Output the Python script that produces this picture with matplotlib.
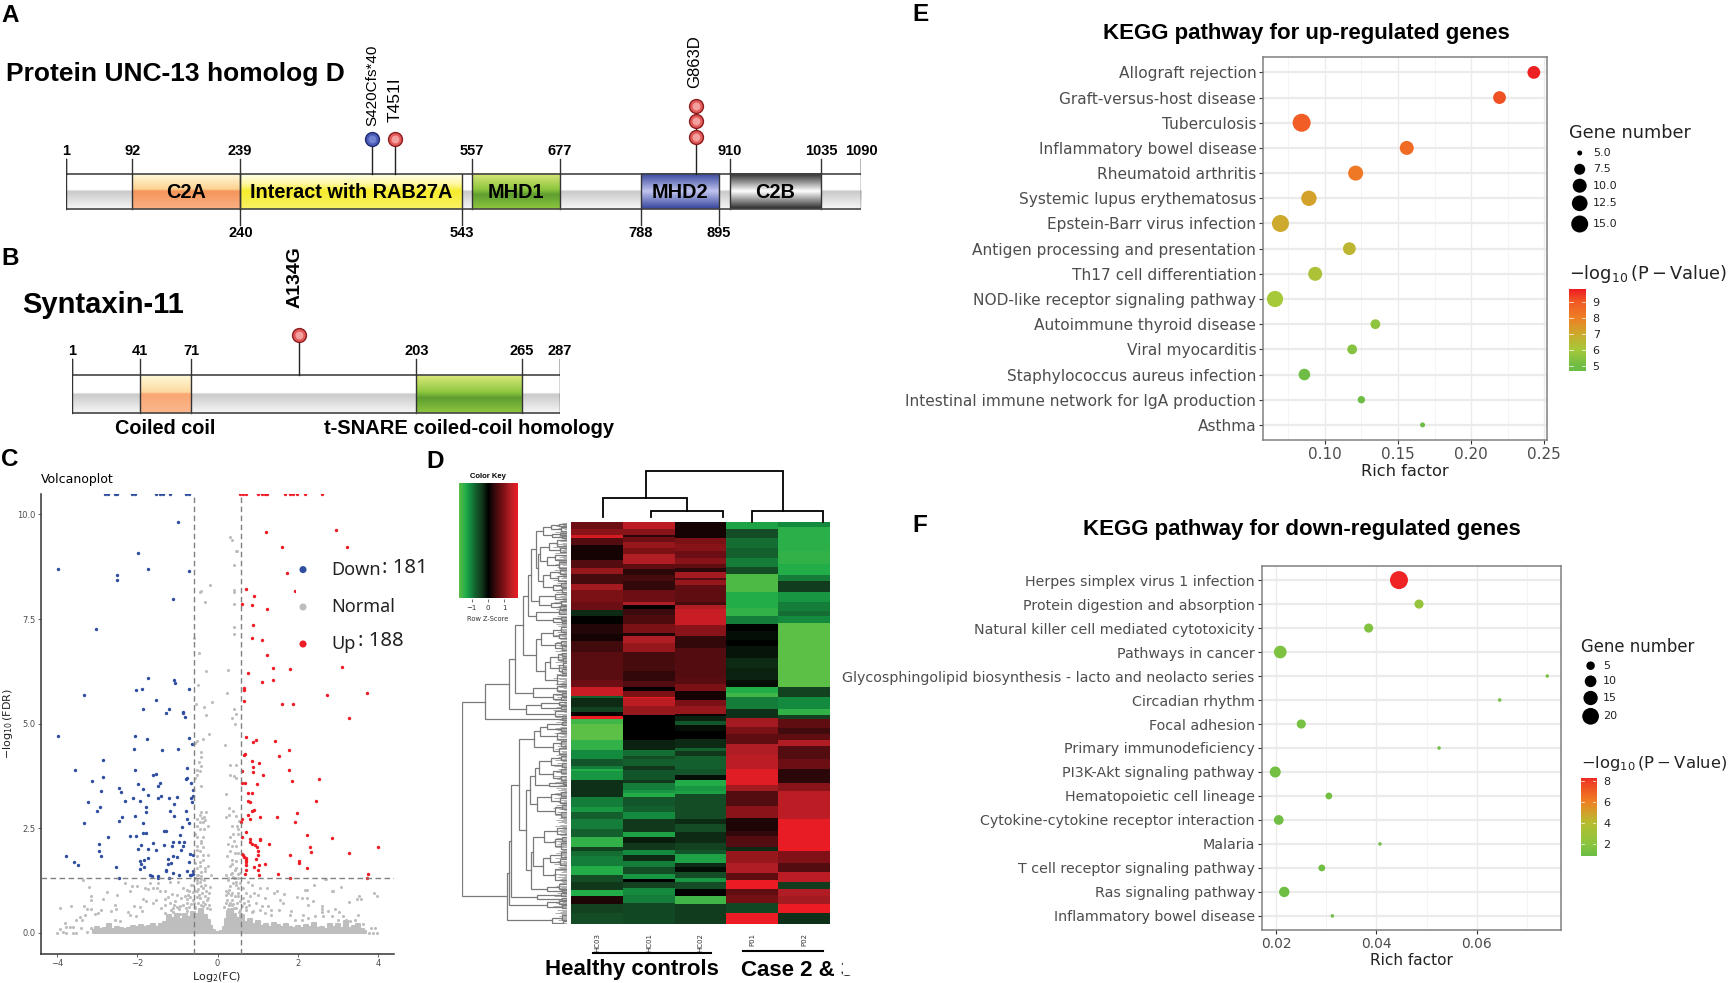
import numpy as np
import matplotlib
matplotlib.use('Agg')
import matplotlib.pyplot as plt
from matplotlib.colors import LinearSegmentedColormap, to_rgb
from matplotlib.patches import Rectangle

W, H = 1730, 983
plt.rcParams['font.family'] = ['DejaVu Sans']
plt.rcParams['mathtext.fontset'] = 'dejavusans'
BOLD = 'Liberation Sans'

# ---- A / B domain data
unc_ticks_top = [1, 92, 239, 557, 677, 910, 1035, 1090]
unc_ticks_bot = [240, 543, 788, 895]
unc_domains = [('C2A', 92, 239), ('Interact with RAB27A', 240, 543), ('MHD1', 557, 677),
               ('MHD2', 788, 895), ('C2B', 910, 1035)]
unc_muts = [420, 451, 863]
stx_ticks_top = [1, 41, 71, 203, 265, 287]
stx_domains = [('Coiled coil', 41, 71), ('t-SNARE coiled-coil homology', 203, 265)]
stx_mut = 134

# ---- C volcano data
down_x = [-0.98,-3.97,-1.97,-1.72,-2.51,-2.51,-0.71,-1.10,-3.02,-1.73,-1.09,-1.05,-1.88,-2.03,-0.72,-3.31,-1.53,-1.86,-1.21,-1.28,-0.86,-0.85,-0.80,-3.98,-2.06,-1.75,-0.71,-0.64,-2.08,-1.38,-0.98,-2.84,-3.55,-2.05,-0.75,-1.60,-1.53,-2.84,-0.77,-0.79,-3.13,-1.97,-1.44,-1.49,-0.66,-2.46,-1.85,-2.89,-0.60,-2.39,-1.73,-1.40,-2.10,-1.49,-1.20,-1.01,-0.62,-0.65,-3.22,-2.30,-1.93,-1.09,-0.63,-2.93,-1.78,-2.99,-1.78,-1.19,-0.78,-2.06,-2.37,-1.08,-2.46,-0.75,-3.31,-1.86,-0.72,-0.88,-1.34,-1.29,-1.85,-1.79,-0.93,-2.72,-2.17,-2.03,-1.91,-1.60,-2.96,-1.10,-1.33,-0.95,-0.83,-0.85,-1.12,-1.98,-1.74,-1.54,-2.94,-0.91,-1.10,-1.01,-3.76,-2.90,-0.69,-0.60,-1.73,-1.83,-1.22,-1.93,-1.90,-0.71,-3.58,-3.48,-1.15,-1.24,-2.53,-1.83,-1.93,-1.28,-1.29,-0.77,-1.10,-0.97,-1.68,-1.63,-1.49,-1.49,-2.45,-1.21,-0.69,-0.65,-0.61,-0.62,-2.80,-2.72,-2.55,-2.51,-2.14,-2.06,-1.52,-1.44,-1.35,-1.17,-0.79,-0.71]
down_y = [9.82,8.69,9.07,8.70,8.55,8.43,8.65,7.98,7.27,6.10,6.04,5.97,5.83,5.80,5.83,5.68,5.56,5.36,5.35,5.26,5.27,5.26,5.16,4.71,4.70,4.64,4.66,4.51,4.40,4.36,4.39,4.14,3.89,3.90,3.95,3.76,3.79,3.72,3.70,3.67,3.62,3.56,3.58,3.52,3.58,3.47,3.44,3.40,3.41,3.37,3.29,3.28,3.23,3.23,3.22,3.24,3.28,3.23,3.13,3.14,3.14,3.09,3.12,3.00,3.01,2.90,2.88,2.90,2.92,2.80,2.77,2.80,2.68,2.73,2.62,2.63,2.63,2.52,2.43,2.43,2.38,2.38,2.34,2.30,2.31,2.31,2.09,2.15,2.13,2.18,2.10,2.17,2.17,2.08,2.07,2.01,2.00,1.99,1.95,1.99,1.83,1.81,1.84,1.83,1.88,1.87,1.79,1.75,1.77,1.71,1.65,1.70,1.68,1.62,1.66,1.65,1.57,1.57,1.52,1.51,1.47,1.48,1.43,1.39,1.39,1.35,1.35,1.32,1.32,1.32,1.37,1.37,1.47,1.40,10.5,10.5,10.5,10.5,10.5,10.5,10.5,10.5,10.5,10.5,10.5,10.5]
up_x = [1.20,2.95,1.60,3.22,1.73,1.94,0.71,0.91,0.61,0.86,1.24,0.89,0.85,1.10,1.24,1.37,1.80,0.75,1.37,1.10,0.66,0.66,2.73,3.73,0.66,1.60,1.88,3.27,0.71,0.96,0.89,1.42,1.78,0.68,0.65,1.53,0.85,1.03,0.89,1.78,0.60,0.89,1.12,2.53,1.85,0.61,0.69,0.99,0.77,0.85,0.76,0.81,2.46,0.92,0.86,1.98,0.76,1.07,1.49,0.80,0.60,0.59,1.94,0.70,2.22,0.60,2.86,1.07,1.05,0.80,0.80,1.29,0.86,0.94,0.98,2.30,3.99,1.01,2.33,3.28,1.81,0.60,0.63,0.66,0.70,1.01,0.96,0.70,2.02,2.03,0.71,0.70,1.18,1.03,0.91,1.02,2.22,0.72,0.69,1.03,1.50,3.74,1.81,3.71,3.10,0.57,0.64,0.72,1.01,1.10,1.18,1.22,1.68,1.80,1.88,1.97,2.17,2.59]
up_y = [9.59,9.63,9.22,9.22,8.60,8.16,8.22,8.04,7.87,7.83,7.75,7.36,7.05,6.99,6.63,6.33,6.30,6.20,6.04,5.99,5.85,5.80,5.68,5.73,5.53,5.46,5.47,5.14,4.69,4.61,4.56,4.58,4.38,4.28,4.25,4.22,4.10,4.06,3.96,3.88,3.87,3.84,3.76,3.67,3.63,3.59,3.58,3.55,3.35,3.33,3.16,3.12,3.15,2.94,2.92,2.86,2.81,2.76,2.76,2.72,2.71,2.65,2.64,2.41,2.34,2.29,2.26,2.25,2.21,2.23,2.17,2.12,2.12,2.09,2.06,2.06,2.04,1.95,1.92,1.90,1.86,1.88,1.87,1.82,1.79,1.85,1.77,1.73,1.71,1.66,1.69,1.63,1.65,1.61,1.57,1.50,1.54,1.49,1.41,1.39,1.40,1.40,1.32,1.32,6.36,10.5,10.5,10.5,10.5,10.5,10.5,10.5,10.5,10.5,10.5,10.5,10.5,10.5]
normal_x = [-3.99,-3.91,-3.80,-3.91,-3.64,-3.33,-3.25,-3.16,-3.20,-3.35,-3.14,-3.14,-2.86,-2.76,-2.50,-2.56,-2.91,-2.64,-2.53,-3.05,-2.97,-3.30,-3.41,-3.36,-3.51,-3.76,-3.68,-3.59,-3.84,-3.76,-3.59,-3.51,-3.39,-3.26,-3.14,-2.31,-2.14,-2.00,-2.17,-1.81,-1.73,-1.60,-1.50,-1.69,-1.48,-1.19,-0.98,-1.44,-1.31,-1.14,-1.00,-0.86,-0.77,-0.65,-1.52,-1.60,-1.31,-1.23,-2.07,-1.93,-1.85,-1.77,-2.22,-2.02,-1.89,-2.56,-2.43,-2.18,-1.40,-1.31,-1.19,-1.06,-0.90,-0.73,-0.52,-0.36,-0.19,-0.44,-0.32,-0.52,-1.10,-0.94,-0.77,-0.61,-0.44,-0.27,-0.77,-0.56,-0.36,-0.19,-1.31,-1.10,-0.94,
 0.32,0.36,0.49,0.46,0.41,-0.18,-0.40,-0.44,0.41,0.41,-0.31,0.41,0.42,0.41,-0.59,-0.46,-0.28,0.25,-0.48,0.24,-0.14,-0.34,-0.54,0.41,0.47,0.37,-0.29,0.44,-0.20,-0.36,-0.52,-0.57,0.18,-0.41,-0.41,-0.46,-0.40,-0.51,-0.44,-0.52,-0.56,0.31,0.47,0.32,0.41,0.47,-0.42,0.21,-0.40,-0.29,-0.44,-0.34,-0.52,-0.36,-0.23,-0.52,-0.44,-0.34,-0.56,-0.41,-0.52,-0.36,-0.44,-0.23,-0.52,-0.36,-0.44,-0.56,-0.23,-0.32,-0.17,-0.52,-0.40,0.29,0.20,0.29,0.54,0.49,0.35,0.51,0.39,0.27,0.35,0.47,0.31,0.43,0.24,0.35,0.47,0.32,0.43,0.22,0.35,0.51,0.27,0.43,2.70,2.17,2.86,
 2.41,2.67,2.87,3.07,2.22,3.52,3.46,3.58,3.28,3.90,3.96,2.38,1.99,2.11,2.22,2.24,2.60,2.60,2.59,1.84,1.53,1.66,1.47,1.41,1.22,1.05,0.85,0.76,0.64,0.72,0.80,0.91,1.00,1.18,1.26,1.34,1.10,0.97,0.76,0.64,1.63,1.55,1.80,1.93,1.34,1.18,1.05,0.89,0.72,0.28,0.22,0.35,0.28,0.25,0.39,0.45,0.53,0.61,0.33,0.51,0.51,0.47,0.39,2.13,2.42,2.75,2.92,3.02,3.13,3.21,3.42,3.50,3.63,3.83,3.93,3.77,3.88,3.96,2.10,2.26,2.63,2.84,3.00,3.29,
 -.55,-.48,-.42,-.36,-.3,-.25,-.2,-.52,-.46,-.38,-.3,-.24,-.56,-.48,-.42,-.28,-.22,-.6,-.5,-.4,-.34,-.58,-.65,-.7,-.78,-.85,-.95,-1.02,-1.08,-1.15,-.68,-.75,-.82,-.7,-.62,-.55,-.48,-.4,-.32,-.5,-.44,-.36,-.5,-.42,-.36,-.5,-.44,-.38,-.3,
 .16,.2,.24,.3,.36,.42,.48,.55,.2,.27,.36,.44,.5,.56,.65,.7,.78,.85,.3,.38,.45,.56,.25,.33,.4,.5,.56,.46,.36,.52,.4,.5,.3,.45,.38]
normal_y = [0.0,0.10,0.23,0.60,0.65,0.63,0.56,0.56,1.09,1.25,0.88,0.79,0.81,0.98,0.90,0.67,0.55,0.51,0.56,0.45,0.47,0.43,0.37,0.31,0.31,0.15,0.13,0.13,0.03,0.0,0.0,0.0,0.11,0.03,0.11,1.18,1.12,1.12,0.99,1.08,1.04,1.06,1.06,1.18,1.18,1.22,1.22,0.99,0.99,0.93,0.91,1.07,1.03,1.14,0.79,0.71,0.80,0.85,0.65,0.61,0.80,0.75,0.49,0.39,0.51,0.31,0.27,0.43,0.59,0.67,0.71,0.75,0.83,0.91,0.99,1.07,1.10,1.22,1.14,1.26,0.59,0.63,0.71,0.79,0.83,0.79,0.51,0.59,0.64,0.56,0.47,0.49,0.45,
 9.47,9.40,9.12,9.12,8.79,8.31,8.18,8.14,8.20,8.14,7.91,7.85,7.30,7.14,7.05,6.69,6.25,6.28,5.92,5.74,5.52,5.40,5.47,5.36,5.24,5.13,5.20,5.00,4.74,4.63,4.59,4.53,4.48,4.31,4.19,4.08,3.98,3.88,3.86,3.78,3.70,4.00,4.00,3.76,3.74,3.70,3.51,3.32,2.89,2.89,2.81,2.77,2.73,2.64,2.56,2.56,2.48,2.48,2.36,2.20,2.08,2.04,1.95,1.87,1.83,1.75,1.59,1.67,1.59,1.47,1.39,1.39,1.35,2.98,2.77,2.81,2.68,2.56,2.56,2.48,2.36,2.12,2.08,2.08,1.95,1.91,1.83,1.75,1.71,1.59,1.51,1.39,1.43,1.40,1.31,1.32,1.29,1.02,1.00,
 1.15,1.28,1.01,1.09,1.03,0.88,0.80,0.80,0.73,0.95,0.88,0.75,0.85,0.82,0.82,0.66,0.65,0.56,0.49,0.53,0.55,0.93,1.01,0.96,1.08,1.06,1.14,1.22,1.06,0.96,0.88,0.96,0.91,0.83,0.63,0.55,0.64,0.72,0.77,0.83,0.71,0.79,0.43,0.31,0.43,0.47,0.55,0.51,0.55,1.03,1.01,0.79,0.67,0.56,0.69,0.59,0.49,0.64,0.91,0.87,1.07,1.22,1.34,0.43,0.39,0.53,0.56,0.49,0.39,0.31,0.31,0.43,0.21,0.11,0.11,0.0,0.0,0.0,0.31,0.35,0.39,0.39,0.31,0.27,
 .62,.7,.66,.74,.68,.6,.66,.85,.9,.95,.88,.82,1.0,1.05,1.12,1.0,.95,1.15,1.2,1.28,1.25,.72,.68,.62,.6,.66,.58,.62,.66,.55,.85,.8,.88,1.0,.98,1.3,1.38,1.45,1.55,1.55,1.7,1.85,1.98,2.15,2.3,2.3,2.65,2.75,2.7,
 .62,.7,.78,.72,.66,.6,.7,.75,.9,.95,.95,.88,.95,.55,.7,.62,.66,.5,1.12,1.18,1.15,1.18,1.25,1.4,1.3,1.3,1.42,1.55,1.65,1.9,2.2,2.35,2.3,2.8,2.9]
mass_x = [-3.1,-3.0,-2.9,-2.8,-2.7,-2.6,-2.5,-2.4,-2.3,-2.2,-2.1,-2.0,-1.9,-1.8,-1.7,-1.6,-1.5,-1.4,-1.3,-1.2,-1.1,-1.0,-.9,-.8,-.7,-.6,-.5,-.4,-.3,-.2,-.15,-.1,0,.1,.15,.2,.25,.3,.35,.4,.5,.6,.7,.8,.9,1,1.1,1.2,1.3,1.4,1.5,1.6,1.7,1.8,1.9,2,2.1,2.2,2.3,2.4,2.5,2.6,2.7,2.8,2.9,3,3.1,3.2,3.3,3.4,3.5,3.6,3.7]
mass_y = [.06,.14,.08,.12,.2,.1,.14,.12,.1,.12,.16,.14,.18,.13,.16,.2,.14,.22,.26,.42,.36,.46,.34,.44,.38,.5,.46,.58,.42,.3,.16,.07,.03,.04,.14,.34,.52,.4,.58,.44,.36,.42,.26,.32,.2,.28,.16,.22,.14,.24,.18,.14,.22,.14,.12,.16,.12,.18,.14,.24,.12,.14,.1,.2,.14,.22,.12,.28,.12,.16,.2,.1,.04]

# ---- D heatmap, run-lengths per column (row end, z-score)
hm_cols = ['HC03', 'HC01', 'HC02', 'P01', 'P02']
hc03_end = [6,12,15,21,35,42,48,57,62,73,81,86,94,103,109,119,145,151,160,162,170,174,178,181,185,200,209,218,224,227,229,237,252,262,266,273,282,289,298,302,307,316,324,330,338,343,351,359,369]
hc03_val = [.8,1.0,1.6,.6,.15,.6,1.1,.5,1.2,.9,.8,-.3,.02,.25,.15,.45,.65,.8,1.5,-.8,-.3,-.5,.05,1.8,-1.6,-1.8,-1.5,-1.1,-.7,-1.0,-1.4,-1.2,-.35,-1.0,-1.2,-.8,-1.0,-.8,-1.5,-.5,-.9,-1.0,-1.4,-.6,-.4,-1.4,.2,-.5,-.6]
hc01_end = [6,12,14,18,24,29,39,43,49,54,62,73,76,80,85,94,102,105,111,119,137,146,151,155,161,162,169,177,200,209,215,218,224,228,237,240,246,249,252,261,266,273,285,289,295,301,306,311,317,323,328,330,336,342,350,369]
hc01_val = [1.4,1.0,.3,.8,1.1,.9,1.3,.7,.3,.5,.35,.8,1.3,.02,.4,.55,.9,.2,1.3,1.1,.5,.35,.6,.02,.9,1.8,1.4,1.1,0,-.25,-.9,-.6,-.8,-.4,-.7,-.4,-1.0,-1.2,-1.4,-.7,-.8,-1.1,-.4,-1.3,-.2,-.4,-1.1,-.3,-1.0,-.6,-1.2,0,-.5,-1.1,-1.0,-.55]
hc02_end = [15,20,27,33,39,42,46,51,53,58,73,76,80,95,105,116,143,149,155,163,169,176,178,183,186,192,199,207,210,215,227,232,237,242,247,250,273,277,285,295,301,305,313,317,321,327,330,337,343,351,369]
hc02_val = [.15,.9,1.0,.8,1.0,.7,.3,1.2,.6,1.1,.7,.5,1.3,1.5,1.0,.35,.6,.65,.9,.15,.9,1.1,.1,-.25,-.7,-.1,0,-.3,-.8,-.4,-.8,-.7,-.1,-1.4,-1.2,-1.3,-.6,-.3,-.6,-.3,-.5,-.7,-1.3,-.3,-.1,-.6,-1.2,-.6,0,-1.6,-.45]
p01_end = [6,15,24,33,41,48,64,79,86,94,100,108,114,125,134,145,151,157,161,172,180,188,195,204,214,227,241,247,261,272,284,288,298,302,313,322,329,337,342,350,359,369]
p01_val = [-1.3,-.6,-.9,-.8,-1.0,-.6,-1.7,-1.4,-1.5,-1.0,-.02,-.1,-.02,-.15,-.3,-.25,-.1,-1.4,-1.6,-1.0,-.35,1.2,.9,.7,1.3,1.4,1.7,1.2,.6,1.0,.2,.35,.6,-.3,1.1,1.3,.7,1.8,.7,.85,-.55,1.8]
p02_end = [5,27,39,49,54,64,73,82,86,93,151,161,172,177,181,189,195,200,206,218,227,240,247,273,298,302,313,321,330,337,343,351,359,369]
p02_val = [-1.1,-1.45,-1.5,-1.4,-1.0,-.45,-1.2,-1.0,-.9,-1.1,-1.8,-.5,-1.1,-1.5,-.5,.7,.45,.7,1.3,.6,.8,.3,1.0,1.4,1.75,1.8,.95,.6,1.4,-.45,1.3,1.2,1.8,-.35]

# row tree as nested (height, child, child), numbers are rows
t_a = (24,(16,(8,1,3),(6,4,7)),(15,(7,9,11),(5,12,14)))
t_b = (27,(18,(10,16,21),(7,23,27)),(20,(12,29,34),(8,36,41)))
t_c = (24,(17,(7,43,47),(9,49,53)),(14,(6,55,59),(5,60,63)))
t_d = (28,(12,65,70),(16,(6,72,75),(7,76,79)))
t_e = (30.7,(8,80,84),(14,(6,86,89),(5,90,92)))
t_top = (39,(35.7,(30.7,t_a,(28.5,t_b,t_c)),t_d),t_e)
t_f = (25.7,(14,(6,96,100),(8,102,106)),(12,(6,108,112),(5,113,117)))
t_g = (21.7,(16.7,(9,(5,119,122),(4,124,127)),(8,(4,129,132),(5,134,138))),(10,140,148))
t_up = (44,t_top,(30.7,t_f,t_g))
t_h = (34,(10,150,154),(14,(5,156,159),(6,160,163)))
t_i = (41,(26,(8,164,167),(6,168,171)),(12,173,177))
t_upper = (81.7,(57.7,(51.7,t_up,t_h),t_i),(5,179,181))
t_e2 = (33,(26.7,(20,(5,183,186),(6,188,191)),(10,193,198)),(14,(6,200,205),(8,207,212)))
t_i2 = (32.3,(28,(16,(6,214,218),(5,220,224)),(14,(6,226,230),(6,232,236))),(18,(4,238,240),(3,241,242)))
t_j2 = (30,(16,(6,247,251),(7,253,257)),(12,(5,259,263),(6,265,270)))
t_k = (34,(23,(10,280,286),(12,(5,288,292),(6,294,299))),(24,(16.7,(6,302,307),(7,309,314)),(12,318,328)))
t_l = (20,(8,332,336),(5,337,339))
t_f2 = (40.7,(36.7,t_i2,t_j2),(35.7,t_k,t_l))
t_a2 = (55.7,(48.3,t_e2,t_f2),(30,(6,340,343),(5,344,346)))
t_x = (57.3,t_a2,(20,(8,347,350),(5,351,354)))
t_lower = (60,t_x,(15,(5,360,365),(4,366,368)))
row_tree = (104.3,t_upper,t_lower)
comb_len = [5,8,4,11,6,9,3,7,12,5,10,4,8,13,6,3,9,7,5,11,4,6,14,8,3,10,5,7,12,6]
col_merges = [(0.11,1.74,0.46,0.09,0.22),(1.04,2.43,0.22,0.09,0.09),(2.98,4.36,0.22,0.0,0.0),(0.95,3.58,1.0,0.46,0.22)]

# ---- E / F KEGG
up_terms = ['Allograft rejection','Graft-versus-host disease','Tuberculosis','Inflammatory bowel disease','Rheumatoid arthritis','Systemic lupus erythematosus','Epstein-Barr virus infection','Antigen processing and presentation','Th17 cell differentiation','NOD-like receptor signaling pathway','Autoimmune thyroid disease','Viral myocarditis','Staphylococcus aureus infection','Intestinal immune network for IgA production','Asthma']
up_rich = [.243,.2195,.084,.156,.121,.089,.0695,.1167,.0933,.0658,.1345,.1186,.0859,.1249,.1668]
up_genes = [9,9,16,10,11.5,12,15,9,10,13.5,7,7,8,6,5]
up_logp = [9.7,9.1,8.9,8.5,8.2,7.2,7.0,6.6,6.2,6.0,5.6,5.4,5.0,4.8,4.7]
down_terms = ['Herpes simplex virus 1 infection','Protein digestion and absorption','Natural killer cell mediated cytotoxicity','Pathways in cancer','Glycosphingolipid biosynthesis - lacto and neolacto series','Circadian rhythm','Focal adhesion','Primary immunodeficiency','PI3K-Akt signaling pathway','Hematopoietic cell lineage','Cytokine-cytokine receptor interaction','Malaria','T cell receptor signaling pathway','Ras signaling pathway','Inflammatory bowel disease']
down_rich = [.0445,.0485,.03845,.0208,.0741,.0646,.025,.0525,.0198,.0305,.0205,.0407,.0291,.0216,.0312]
down_genes = [22,6,6,12,2,2,6,2,9,4,7,2,4,8,2]
down_logp = [8.2,2.4,1.6,1.5,1.3,1.2,1.2,1.1,1.1,1.1,1.0,1.0,1.0,.95,.9]


def axpx(l, t, r, b, **kw):
    return plt.gcf().add_axes([l / W, 1 - b / H, (r - l) / W, (b - t) / H], **kw)


def ftext(x, y, s, **kw):
    kw.setdefault('va', 'center')
    return plt.gcf().text(x / W, 1 - y / H, s, **kw)


def gradient(ax, x0, x1, y0, y1, stops):
    pos = [p for p, c in stops]
    cols = np.array([to_rgb(c) for p, c in stops])
    t = np.linspace(0, 1, 64)
    img = np.stack([np.interp(t, pos, cols[:, i]) for i in range(3)], axis=1)[:, None, :]
    ax.imshow(img, extent=(x0, x1, y1, y0), aspect='auto', zorder=1, interpolation='bilinear')


grad_bg = [(0, '#ffffff'), (.47, '#ffffff'), (.5, '#c9c9c9'), (1, '#f6f6f6')]
grad_c2a = [(0, '#fffbe0'), (.45, '#fdd290'), (.5, '#f5955a'), (1, '#fab184')]
grad_yel = [(0, '#fffff2'), (.3, '#fff8a0'), (.5, '#f6ec2c'), (1, '#faf166')]
grad_grn = [(0, '#dbe87a'), (.45, '#8dc63f'), (.6, '#5f9e30'), (1, '#8dc63f')]
grad_blu = [(0, '#34449c'), (.5, '#c0c4ee'), (1, '#34449c')]
grad_blk = [(0, '#2a2a2a'), (.5, '#ffffff'), (1, '#2a2a2a')]


def ball(ax, x, y, col, edge, light):
    ax.scatter([x], [y], s=100, color=col, edgecolor=edge, linewidth=1.0, zorder=6, clip_on=False)
    ax.scatter([x], [y], s=32, color=light, linewidth=0, zorder=7, clip_on=False, alpha=.8)


fig = plt.figure(figsize=(W / 100, H / 100), dpi=100)

# ---------- A
ax = axpx(65.7, 30, 861.4, 240)
ax.set_xlim(1, 1090)
ax.set_ylim(240, 30)
ax.axis('off')
gradient(ax, 1, 1090, 174, 209.3, grad_bg)
for (name, a, b), g in zip(unc_domains, [grad_c2a, grad_yel, grad_grn, grad_blu, grad_blk]):
    gradient(ax, a, b, 174, 209.3, g)
    ax.plot([a, a], [174, 209.3], color='#333333', lw=1, zorder=3)
    ax.plot([b, b], [174, 209.3], color='#333333', lw=1, zorder=3)
    ax.text((a + b) / 2, 192, name, ha='center', va='center', family=BOLD, weight='bold', fontsize=14.3, zorder=4)
ax.set_xlim(1, 1090)
ax.set_ylim(240, 30)
ax.plot([1, 1090], [174, 174], color='#444444', lw=1.2, zorder=3)
ax.plot([1, 1090], [209.3, 209.3], color='#444444', lw=1.2, zorder=3)
ax.plot([1, 1], [159, 209.3], color='#333333', lw=1, zorder=3)
ax.plot([1090, 1090], [159, 209.3], color='#333333', lw=1, zorder=3)
for t in unc_ticks_top:
    ax.plot([t, t], [159, 174], color='#333333', lw=1, zorder=3)
    ax.text(t, 150.7, str(t), ha='center', va='center', family=BOLD, weight='bold', fontsize=10.5)
for t in unc_ticks_bot:
    ax.plot([t, t], [209.3, 225], color='#333333', lw=1, zorder=3)
    ax.text(t, 232.7, str(t), ha='center', va='center', family=BOLD, weight='bold', fontsize=10.5)
ax.plot([unc_muts[0]] * 2, [139, 174], color='#222222', lw=1, zorder=3)
ax.plot([unc_muts[1]] * 2, [139, 174], color='#222222', lw=1, zorder=3)
ax.plot([unc_muts[2]] * 2, [106, 174], color='#222222', lw=1, zorder=3)
ball(ax, unc_muts[0], 139, '#4a5cb8', '#1f2a70', '#7f8ed8')
ball(ax, unc_muts[1], 139, '#e25a5a', '#8c1c1c', '#f7b4b0')
for yy in [136.7, 121.3, 106]:
    ball(ax, unc_muts[2], yy, '#e25a5a', '#8c1c1c', '#f7b4b0')
ax.text(unc_muts[0] + 1, 126, 'S420Cfs*40', rotation=90, ha='center', va='bottom', family='Liberation Sans', fontsize=11)
ax.text(unc_muts[1] + 1.5, 122, 'T451I', rotation=90, ha='center', va='bottom', family='Liberation Sans', fontsize=12.5)
ax.text(unc_muts[2] - 1, 88, 'G863D', rotation=90, ha='center', va='bottom', family='Liberation Sans', fontsize=12)

ftext(5.6, 74, 'Protein UNC-13 homolog D', family=BOLD, weight='bold', fontsize=19)
ftext(1, 15.5, 'A', family=BOLD, weight='bold', fontsize=17.5)
ftext(1, 259, 'B', family=BOLD, weight='bold', fontsize=17.5)
ftext(22.4, 305, 'Syntaxin-11', family=BOLD, weight='bold', fontsize=21)
ftext(1, 460, 'C', family=BOLD, weight='bold', fontsize=17.5)
ftext(426, 461, 'D', family=BOLD, weight='bold', fontsize=17.5)
ftext(912, 14.5, 'E', family=BOLD, weight='bold', fontsize=17.5)
ftext(912, 526, 'F', family=BOLD, weight='bold', fontsize=17.5)

# ---------- B
ax = axpx(71.8, 250, 559.5, 440)
ax.axis('off')
gradient(ax, 1, 287, 375.3, 412.7, grad_bg)
for (name, a, b), g in zip(stx_domains, [[(0, '#fff8d8'), (.45, '#fdd9a0'), (.5, '#f9a674'), (1, '#fbb88c')], grad_grn]):
    gradient(ax, a, b, 375.3, 412.7, g)
    ax.plot([a, a], [375.3, 412.7], color='#333333', lw=1, zorder=3)
    ax.plot([b, b], [375.3, 412.7], color='#333333', lw=1, zorder=3)
ax.set_xlim(1, 287)
ax.set_ylim(440, 250)
ax.plot([1, 287], [375.3, 375.3], color='#444444', lw=1.2, zorder=3)
ax.plot([1, 287], [412.7, 412.7], color='#444444', lw=1.2, zorder=3)
ax.plot([1, 1], [359.3, 412.7], color='#333333', lw=1, zorder=3)
ax.plot([287, 287], [359.3, 412.7], color='#333333', lw=1, zorder=3)
for t in stx_ticks_top:
    ax.plot([t, t], [359.3, 375.3], color='#333333', lw=1, zorder=3)
    ax.text(t, 350.7, str(t), ha='center', va='center', family=BOLD, weight='bold', fontsize=10.5)
ax.plot([stx_mut] * 2, [335, 375.3], color='#222222', lw=1, zorder=3)
ball(ax, stx_mut, 335, '#e25a5a', '#8c1c1c', '#f7b4b0')
ax.text(stx_mut - 2, 308, 'A134G', rotation=90, ha='center', va='bottom', family=BOLD, weight='bold', fontsize=14)
ax.text(56, 429, stx_domains[0][0], ha='center', va='center', family=BOLD, weight='bold', fontsize=14.3)
ax.text(234, 429, stx_domains[1][0], ha='center', va='center', family=BOLD, weight='bold', fontsize=14.5)

# ---------- C
ax = axpx(40.7, 493.5, 394.3, 953.7)
ax.scatter(normal_x, normal_y, s=5, color='#bebebe', linewidth=0, zorder=2)
ax.fill_between(mass_x, 0, mass_y, step='mid', color='#bebebe', linewidth=1.5, zorder=2)
ax.scatter(down_x, down_y, s=6, color='#2f4ea0', linewidth=0, zorder=3)
ax.scatter(up_x, up_y, s=6, color='#ee1c25', linewidth=0, zorder=3)
for v in [-0.585, 0.585]:
    ax.axvline(v, color='#808080', lw=1, ls=(0, (4, 2.5)), zorder=4)
ax.axhline(1.3, color='#808080', lw=1, ls=(0, (4, 2.5)), zorder=4)
ax.set_xlim(-4.4, 4.4)
ax.set_ylim(-0.5, 10.5)
ax.set_xticks([-4, -2, 0, 2, 4])
ax.set_yticks([0, 2.5, 5, 7.5, 10])
ax.set_yticklabels(['0.0', '2.5', '5.0', '7.5', '10.0'])
ax.tick_params(labelsize=6, colors='#4d4d4d', length=2, width=.6, pad=1.5)
ax.spines[['top', 'right']].set_visible(False)
ax.spines[['left', 'bottom']].set_color('#333333')
ax.spines[['left', 'bottom']].set_linewidth(1.1)
ftext(40.7, 480, 'Volcanoplot', fontsize=9)
ftext(217, 977, r'$\mathrm{Log_2(FC)}$', ha='center', fontsize=8, color='#222222')
ftext(8, 723.6, r'$-\log_{10}(\mathrm{FDR})$', ha='center', rotation=90, fontsize=8, color='#222222')

leg = axpx(296.3, 552, 430, 665, zorder=5, facecolor='white')
leg.set_xlim(296.3, 430)
leg.set_ylim(665, 552)
leg.axis('off')
leg.add_patch(Rectangle((296.3, 552), 133.7, 113, color='white', zorder=0))
leg.scatter([303, 303, 303], [569.6, 607, 644], s=26, color=['#2f4ea0', '#bebebe', '#ee1c25'], linewidth=0, clip_on=False)
leg.text(331.7, 569.6, 'Down', family='Noto Sans', fontsize=13, va='center', color='#222222')
leg.text(382, 568, ': 181', family='Noto Sans', fontsize=14.7, va='center', color='#222222')
leg.text(331.7, 607, 'Normal', family='Noto Sans', fontsize=13, va='center', color='#222222')
leg.text(331.7, 643.7, 'Up', family='Noto Sans', fontsize=13, va='center', color='#222222')
leg.text(358, 641, ': 188', family='Noto Sans', fontsize=14.7, va='center', color='#222222')

# ---------- D
key_nodes = [(-1.8, '#5cbf46'), (-1.4, '#22ad4a'), (-1.1, '#148a3e'), (-.8, '#14602f'), (-.4, '#12381c'),
             (0, '#000000'), (.4, '#3a0a0c'), (.9, '#7a1015'), (1.3, '#b01e24'), (1.8, '#ed1c24')]
key_cmap = LinearSegmentedColormap.from_list('key', [((v + 1.8) / 3.6, c) for v, c in key_nodes])

mat = np.zeros((369, 5))
for j, (ends, vals) in enumerate([(hc03_end, hc03_val), (hc01_end, hc01_val), (hc02_end, hc02_val),
                                  (p01_end, p01_val), (p02_end, p02_val)]):
    start = 0
    for e, v in zip(ends, vals):
        mat[start:e, j] = v
        start = e

ax = axpx(571.3, 522.4, 830.3, 924.2)
ax.imshow(mat, aspect='auto', cmap=key_cmap, vmin=-1.8, vmax=1.8, interpolation='nearest')
ax.set_yticks([])
ax.set_xticks(range(5))
ax.set_xticklabels(hm_cols, rotation=90, fontsize=5)
ax.tick_params(axis='x', length=0, pad=6.5, colors='#333333')
for s in ax.spines.values():
    s.set_visible(False)


def draw_tree(a, node):
    if not isinstance(node, tuple):
        return node + .5, 0
    h, n1, n2 = node
    r1, h1 = draw_tree(a, n1)
    r2, h2 = draw_tree(a, n2)
    a.plot([h1, h, h, h2], [r1, r1, r2, r2], color='#7a7a7a', lw=.9, solid_joinstyle='miter', zorder=3)
    return (r1 + r2) / 2, h


ax = axpx(462, 522.4, 567, 924.2)
ax.set_xlim(104.6, 0)
ax.set_ylim(369, 0)
ax.axis('off')
rows = np.arange(369) + .5
ax.hlines(rows, 0, np.resize(comb_len, 369), color='#999999', lw=.55, zorder=2)
draw_tree(ax, row_tree)

ax = axpx(571.3, 471, 830.3, 521.7)
ax.set_xlim(-.5, 4.5)
ax.set_ylim(0, 1)
ax.axis('off')
for x1, x2, h, b1, b2 in col_merges:
    ax.plot([x1, x1, x2, x2], [b1, h, h, b2], color='black', lw=1.3, solid_joinstyle='miter', clip_on=False)

ax = axpx(458.7, 483.3, 517, 598.5)
ax.imshow(np.linspace(-1.8, 1.8, 256)[None, :], aspect='auto', cmap=key_cmap, vmin=-1.8, vmax=1.8,
          extent=(-1.8, 1.8, 0, 1))
ax.set_yticks([])
ax.set_xticks([-1, 0, 1])
ax.tick_params(axis='x', length=2, width=.5, labelsize=5, pad=3, colors='#333333')
for s in ax.spines.values():
    s.set_visible(False)
ftext(488, 476.5, 'Color Key', ha='center', family=BOLD, weight='bold', fontsize=5.5)
ftext(488, 619, 'Row Z-Score', ha='center', fontsize=4.8, color='#333333')

fig.add_artist(plt.Line2D([592.7 / W, 710.7 / W], [1 - 953.4 / H] * 2, color='black', lw=1.5))
fig.add_artist(plt.Line2D([742.7 / W, 823.3 / W], [1 - 950.7 / H] * 2, color='black', lw=1.5))
ftext(632, 970, 'Healthy controls', ha='center', family=BOLD, weight='bold', fontsize=16)
ftext(740.7, 970, 'Case 2 & 3', ha='left', family=BOLD, weight='bold', fontsize=16, zorder=4)
fig.add_artist(Rectangle((843 / W, 1 - 973.5 / H), 30 / W, 19 / H, color='white', transform=fig.transFigure, zorder=5))


# ---------- E / F
def kegg(box, terms, rich, genes, logp, xlim, xticks, minor, xlabels, size_g, size_d, nodes, ysize, xsize, labsize, tx, ly):
    ax = axpx(*box)
    cmap = LinearSegmentedColormap.from_list('p', [((v - nodes[0][0]) / (nodes[-1][0] - nodes[0][0]), c) for v, c in nodes])
    y = np.arange(len(terms))[::-1]
    d = np.interp(genes, size_g, size_d)
    ax.scatter(rich, y, s=(d * .72) ** 2, c=logp, cmap=cmap, vmin=nodes[0][0], vmax=nodes[-1][0], linewidth=0, zorder=3)
    ax.set_xlim(*xlim)
    ax.set_ylim(-.6, len(terms) - .4)
    ax.set_yticks(y)
    ax.set_yticklabels(terms)
    ax.set_xticks(xticks)
    ax.set_xticklabels(xlabels)
    ax.set_xticks(minor, minor=True)
    ax.grid(True, which='major', color='#ebebeb', lw=1.0, zorder=0)
    ax.grid(True, which='major', axis='y', color='#ebebeb', lw=1.6, zorder=0)
    ax.grid(True, which='minor', axis='x', color='#f0f0f0', lw=.5, zorder=0)
    ax.tick_params(axis='both', which='major', colors='#333333', length=3, width=.8, pad=2)
    ax.tick_params(axis='y', labelsize=ysize, labelcolor='#4d4d4d')
    ax.tick_params(axis='x', labelsize=xsize, labelcolor='#4d4d4d')
    ax.tick_params(which='minor', length=0)
    for s in ax.spines.values():
        s.set_color('#808080')
        s.set_linewidth(1.1)
    ax.set_axisbelow(True)
    ftext(tx, ly, 'Rich factor', ha='center', fontsize=labsize, color='#222222')
    return cmap


def colorbar(box, cmap, vmin, vmax, ticks):
    ax = axpx(*box)
    ax.imshow(np.linspace(vmin, vmax, 200)[:, None], origin='lower', aspect='auto', cmap=cmap, vmin=vmin, vmax=vmax,
              extent=(0, 1, vmin, vmax))
    ax.set_xticks([])
    ax.yaxis.tick_right()
    ax.set_yticks(ticks)
    ax.tick_params(axis='y', length=0, labelsize=8, labelcolor='#222222', pad=5)
    for t in ticks:
        ax.plot([0, .2], [t, t], color='white', lw=.5)
        ax.plot([.8, 1], [t, t], color='white', lw=.5)
    ax.set_xlim(0, 1)
    ax.set_ylim(vmin, vmax)
    for s in ax.spines.values():
        s.set_visible(False)


def size_legend(x, ys, labels, sizes, lx):
    a = axpx(x - 15, ys[0] - 15, x + 15, ys[-1] + 15)
    a.set_xlim(x - 15, x + 15)
    a.set_ylim(ys[-1] + 15, ys[0] - 15)
    a.axis('off')
    a.scatter([x] * len(ys), ys, s=(np.array(sizes) * .72) ** 2, color='black', linewidth=0)
    for yy, lab in zip(ys, labels):
        ftext(lx, yy, lab, fontsize=8, color='#222222')


LOGP = r'$-\log_{10}(\mathrm{P}-\mathrm{Value})$'
e_nodes = [(4.69, '#6cbd45'), (5, '#6fbd44'), (6, '#a6c93a'), (7, '#cda92c'), (8, '#ee7f25'), (9, '#f15a24'), (9.77, '#ed1c24')]
e_size_g, e_size_d = [5, 7.5, 10, 12.5, 15, 16], [5, 11, 14, 15.7, 17, 18]
cm = kegg((1263.2, 57.3, 1546.7, 440), up_terms, up_rich, up_genes, up_logp, (.0577, .2518), [.10, .15, .20, .25],
          [.075, .125, .175, .225], ['0.10', '0.15', '0.20', '0.25'], e_size_g, e_size_d, e_nodes,
          11.05, 11, 11.7, 1404.7, 471.7)
ftext(1306.5, 33, 'KEGG pathway for up-regulated genes', ha='center', family=BOLD, weight='bold', fontsize=16)
ftext(1569.4, 133, 'Gene number', fontsize=12.7, color='#222222')
size_legend(1579.7, [153, 169.3, 185.7, 203.3, 224], ['5.0', '7.5', '10.0', '12.5', '15.0'], e_size_d[:5], 1593.3)
ftext(1569.4, 274, LOGP, fontsize=12.8, color='#222222')
colorbar((1569.4, 289.3, 1585.7, 371), cm, 4.69, 9.77, [5, 6, 7, 8, 9])

f_nodes = [(.82, '#6cbd45'), (2, '#8cc63f'), (4, '#b8bd2f'), (6, '#ef8022'), (8, '#ef3b24'), (8.3, '#ed1c24')]
f_size_g, f_size_d = [2, 5, 10, 15, 20, 22], [3.5, 8.5, 11.7, 14.3, 16.7, 18]
cm = kegg((1261.7, 565.7, 1560.8, 930.3), down_terms, down_rich, down_genes, down_logp, (.0171, .0768), [.02, .04, .06],
          [.03, .05, .07], ['0.02', '0.04', '0.06'], f_size_g, f_size_d, f_nodes, 10.3, 10, 11, 1411, 960.7)
ftext(1301.5, 529.3, 'KEGG pathway for down-regulated genes', ha='center', family=BOLD, weight='bold', fontsize=16)
ftext(1581, 646.7, 'Gene number', fontsize=11.9, color='#222222')
size_legend(1590.6, [665.7, 681.3, 698, 716.3], ['5', '10', '15', '20'], f_size_d[1:5], 1602.7)
ftext(1581, 763.3, LOGP, fontsize=11.8, color='#222222')
colorbar((1581, 777.7, 1596.4, 856), cm, .82, 8.3, [2, 4, 6, 8])

fig.savefig('out.png', dpi=100)
